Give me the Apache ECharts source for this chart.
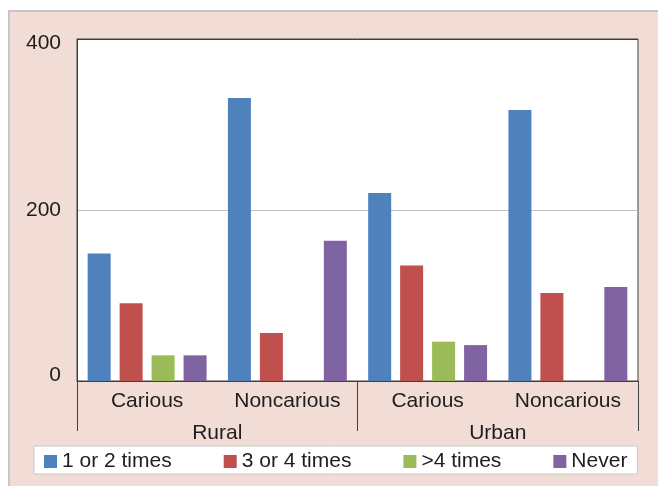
<!DOCTYPE html>
<html>
<head>
<meta charset="utf-8">
<script src="https://cdn.jsdelivr.net/npm/echarts@6/dist/echarts.min.js"></script>
<style>
    html, body { margin: 0; padding: 0; background: #fff; }
    #frame {
        position: absolute; left: 8px; top: 10px; width: 650px; height: 476px;
        box-sizing: border-box; border-top: 2px solid #c6c6c6; border-left: 2px solid #c6c6c6;
        background: #f1ddd5;
    }
    #chart { width: 648px; height: 474px; }
</style>
</head>
<body>
<div id="frame"><div id="chart"></div></div>
<script>
    // categories (inner level) and groups (outer level)
    const categories = ['Carious', 'Noncarious', 'Carious', 'Noncarious'];
    const groups = ['Rural', 'Urban'];
    const yTicks = [0, 200, 400];

    // values
    const once12 = [149, 331, 220, 317];
    const times34 = [91, 56, 135, 103];
    const over4 = [30, 0, 46, 0];
    const never = [30, 164, 42, 110];

    const seriesNames = ['1 or 2 times', '3 or 4 times', '>4 times', 'Never'];
    const colors = ['#4f81bd', '#c0504d', '#9bbb59', '#8064a2'];
    const seriesData = [once12, times34, over4, never];

    const textColor = '#1e1e1e';
    const fontFamily = '"Liberation Sans", Arial, sans-serif';

    const myChart = echarts.init(document.getElementById('chart'));

    const option = {
        backgroundColor: 'transparent',
        textStyle: {fontFamily: fontFamily},
        animation: false,
        color: colors,
        grid: {
            left: 67,
            top: 27,
            right: 20,
            bottom: 105,
            show: true,
            backgroundColor: '#fff',
            borderColor: '#404040',
            borderWidth: 1
        },
        legend: {
            data: seriesNames,
            left: 24,
            top: 434,
            itemWidth: 13,
            itemHeight: 13,
            itemGap: 52,
            padding: [5, 10, 2, 10],
            backgroundColor: '#fff',
            borderColor: '#c8c8c8',
            borderWidth: 1,
            borderRadius: 0,
            icon: 'rect',
            textStyle: {fontSize: 21, color: textColor, fontFamily: fontFamily}
        },
        xAxis: [
            {
                type: 'category',
                data: categories,
                position: 'bottom',
                axisLine: {lineStyle: {color: '#404040', width: 1}},
                axisTick: {show: false},
                axisLabel: {fontSize: 21, color: textColor, margin: 10, interval: 0}
            },
            {
                type: 'category',
                data: groups,
                position: 'bottom',
                axisLine: {show: false},
                axisTick: {show: true, length: 50, lineStyle: {color: '#404040'}},
                axisLabel: {fontSize: 21, color: textColor, margin: 42, interval: 0}
            }
        ],
        yAxis: {
            type: 'value',
            min: yTicks[0],
            max: yTicks[yTicks.length - 1],
            interval: yTicks[1] - yTicks[0],
            axisLine: {show: true, lineStyle: {color: '#404040'}},
            axisTick: {show: false},
            axisLabel: {
                fontSize: 21,
                color: textColor,
                margin: 16,
                // end labels sit slightly inside the plot, as in the original
                formatter: function (value) {
                    if (value === yTicks[0]) return '{lo|' + value + '}';
                    if (value === yTicks[yTicks.length - 1]) return '{hi|' + value + '}';
                    return value;
                },
                rich: {
                    lo: {fontSize: 21, color: textColor, padding: [0, 0, 12, 0]},
                    hi: {fontSize: 21, color: textColor, padding: [8, 0, 0, 0]}
                }
            },
            splitLine: {lineStyle: {color: ['#404040', '#c0c0c0', '#404040']}}
        },
        series: seriesNames.map(function (name, i) {
            return {
                name: name,
                type: 'bar',
                xAxisIndex: 0,
                barWidth: 23,
                barGap: '39%',
                data: seriesData[i]
            };
        })
    };

    myChart.setOption(option);
</script>
</body>
</html>
